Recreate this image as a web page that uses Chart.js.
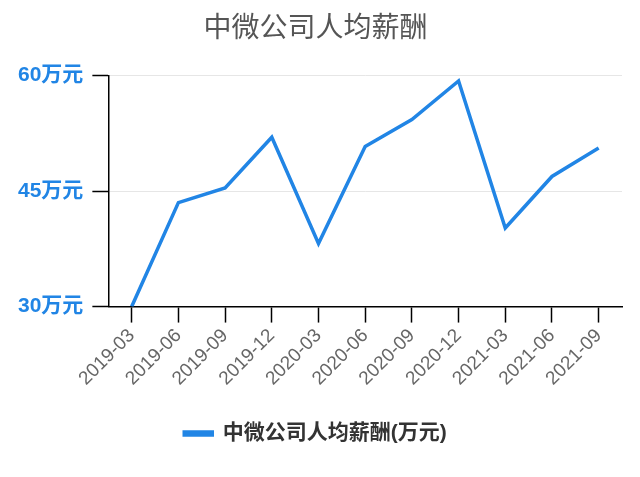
<!DOCTYPE html>
<html>
<head>
<meta charset="utf-8">
<script src="https://cdn.jsdelivr.net/npm/chart.js@4"></script>
<style>
  html, body { margin: 0; padding: 0; background: #fff; }
  #wrap { width: 640px; height: 477px; }
</style>
</head>
<body>
<div id="wrap"><canvas id="salaryChart"></canvas></div>
<script>
const quarters = ["2019-03", "2019-06", "2019-09", "2019-12", "2020-03", "2020-06",
  "2020-09", "2020-12", "2021-03", "2021-06", "2021-09"];
const salary = [30.0, 43.5, 45.4, 52.0, 38.2, 50.8, 54.3, 59.3, 40.2, 46.9, 50.6];
const yTicks = [30, 45, 60];
const seriesName = "中微公司人均薪酬(万元)";
const titleText = "中微公司人均薪酬";

const blue = "#2185e5";
const fontFamily = "'Liberation Sans', 'Noto Sans CJK SC', Arial, sans-serif";

Chart.defaults.font.family = fontFamily;

function createChart(ctx) {
  return new Chart(ctx, {
    type: "line",
    data: {
      labels: quarters,
      datasets: [
        {
          label: seriesName,
          data: salary,
          borderColor: blue,
          backgroundColor: blue,
          borderWidth: 3.5,
          pointRadius: 0,
          tension: 0,
          fill: false,
        },
      ],
    },
    options: {
      responsive: true,
      maintainAspectRatio: false,
      animation: false,
      layout: {
        padding: { left: 9, right: 18, top: 0, bottom: 23 },
      },
      scales: {
        x: {
          offset: true,
          grid: {
            drawOnChartArea: false,
            color: "#000",
            tickLength: 16,
            tickWidth: 1.5,
          },
          border: { color: "#000", width: 1.5 },
          ticks: {
            color: "#666",
            font: { size: 19 },
            maxRotation: 45,
            minRotation: 45,
            padding: 2,
          },
        },
        y: {
          min: 30,
          max: 60,
          afterBuildTicks: (axis) => {
            axis.ticks = yTicks.map((v) => ({ value: v }));
          },
          grid: {
            color: "#e6e6e6",
            tickColor: "#000",
            tickLength: 16,
            tickWidth: 1.5,
          },
          border: { color: "#000", width: 1.5 },
          ticks: {
            color: blue,
            font: { size: 21, weight: "bold" },
            padding: 9,
            callback: (v) => v + "万元",
          },
        },
      },
      plugins: {
        title: {
          display: true,
          text: titleText,
          color: "#555",
          font: { size: 28, weight: "normal" },
          padding: { top: 12, bottom: 30 },
        },
        legend: {
          position: "bottom",
          labels: {
            color: "#333",
            font: { size: 21, weight: "bold" },
            boxWidth: 28,
            boxHeight: 3,
            padding: 31,
          },
        },
        tooltip: { enabled: false },
      },
    },
  });
}

createChart(document.getElementById("salaryChart"));
</script>
</body>
</html>
